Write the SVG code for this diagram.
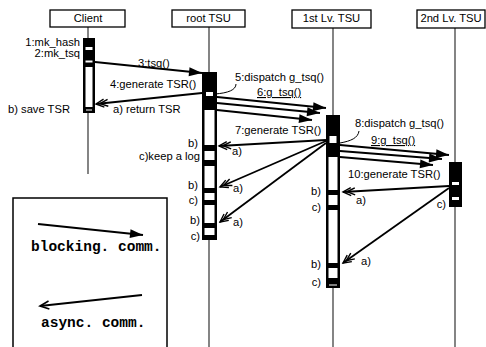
<svg xmlns="http://www.w3.org/2000/svg" width="486" height="347" viewBox="0 0 486 347">
<defs>
<style>
.lbl{font-family:"Liberation Sans",Arial,sans-serif;font-size:11.2px;fill:#000}
.end{text-anchor:end}
.mid{text-anchor:middle}
.box{fill:#fff;stroke:#000;stroke-width:1.3}
.life{stroke:#333;stroke-width:1.2;fill:none}
.msg{stroke:#000;stroke-width:1.8;fill:none}
.blk{marker-end:url(#fill)}
.asy{marker-end:url(#open2)}
.leg{font-family:"Liberation Mono","Courier New",monospace;font-weight:bold;font-size:14.5px;fill:#000}
.w{fill:#fff}
</style>
<marker id="fill" markerUnits="userSpaceOnUse" markerWidth="14" markerHeight="10" refX="13" refY="4.5" orient="auto" overflow="visible">
<path d="M0,0 L13,4.5 L0,9 z" fill="#000"/>
</marker>
<marker id="open2" markerUnits="userSpaceOnUse" markerWidth="14" markerHeight="10" refX="12" refY="4" orient="auto" overflow="visible">
<path d="M4,0 L12,4 L4,8 M0,0.5 L8,4 L0,7.5" fill="none" stroke="#000" stroke-width="1.4"/>
</marker>
<marker id="open1" markerUnits="userSpaceOnUse" markerWidth="12" markerHeight="10" refX="11" refY="4" orient="auto" overflow="visible">
<path d="M2,0 L11,4 L2,8" fill="none" stroke="#000" stroke-width="1.6"/>
</marker>
</defs>
<rect width="486" height="347" fill="#fff"/>

<g id="client">
<line class="life" x1="88" y1="27" x2="88" y2="174"/>
<rect class="box" x="50" y="10" width="75" height="17"/>
<text class="lbl mid" x="88" y="22">Client</text>
<rect x="83" y="38" width="12" height="75" fill="#000"/>
<rect class="w" x="85.5" y="47" width="7" height="3"/>
<rect class="w" x="85.5" y="60.5" width="7" height="2"/>
<rect class="w" x="85.5" y="67" width="7" height="40"/>
<rect class="w" x="86" y="109.5" width="6" height="1"/>
<text class="lbl end" x="80" y="46">1:mk_hash</text>
<text class="lbl end" x="80" y="57">2:mk_tsq</text>
<text class="lbl" x="8" y="113">b) save TSR</text>
</g>

<g id="root">
<line class="life" x1="209" y1="27" x2="209" y2="347"/>
<rect class="box" x="172" y="10" width="73" height="17"/>
<text class="lbl mid" x="208.5" y="22">root TSU</text>
<rect x="202" y="72" width="15" height="168" fill="#000"/>
<rect class="w" x="206" y="92" width="7" height="4"/>
<rect class="w" x="204.5" y="110" width="10" height="35"/>
<rect class="w" x="204.5" y="151" width="10" height="9"/>
<rect class="w" x="204.5" y="166" width="10" height="22"/>
<rect class="w" x="204.5" y="193" width="10" height="7"/>
<rect class="w" x="204.5" y="205" width="10" height="18"/>
<rect class="w" x="204.5" y="228" width="10" height="7"/>
<text class="lbl end" x="198" y="147">b)</text>
<text class="lbl end" x="200" y="160">c)keep a log</text>
<text class="lbl end" x="198" y="189">b)</text>
<text class="lbl end" x="198" y="204">c)</text>
<text class="lbl end" x="200" y="224">b)</text>
<text class="lbl end" x="200" y="240">c)</text>
</g>

<g id="tsu1">
<line class="life" x1="333" y1="28" x2="333" y2="347"/>
<rect class="box" x="292" y="10" width="79" height="18"/>
<text class="lbl mid" x="331.5" y="22">1st Lv. TSU</text>
<rect x="326" y="115" width="14" height="173" fill="#000"/>
<rect class="w" x="329.5" y="136" width="7" height="7"/>
<rect class="w" x="328.5" y="157" width="9" height="33"/>
<rect class="w" x="328.5" y="195" width="9" height="10"/>
<rect class="w" x="328.5" y="210" width="9" height="53"/>
<rect class="w" x="328.5" y="268" width="9" height="10"/>
<rect class="w" x="329" y="284.5" width="8" height="1"/>
<text class="lbl end" x="321" y="195">b)</text>
<text class="lbl end" x="321" y="211">c)</text>
<text class="lbl end" x="321" y="268">b)</text>
<text class="lbl end" x="321" y="286">c)</text>
</g>

<g id="tsu2">
<line class="life" x1="455" y1="28" x2="455" y2="347"/>
<rect class="box" x="417" y="10" width="68" height="18"/>
<text class="lbl mid" x="451" y="22">2nd Lv. TSU</text>
<rect x="449" y="162" width="13" height="45" fill="#000"/>
<rect class="w" x="452" y="182" width="7" height="3"/>
<rect class="w" x="452" y="197" width="7" height="3"/>
<text class="lbl end" x="446" y="208">c)</text>
</g>

<g id="connectors">
<line class="msg blk" x1="95" y1="62" x2="202" y2="73"/>
<line class="msg asy" x1="202" y1="93" x2="96" y2="104"/>
<line class="msg blk" x1="217" y1="97" x2="326" y2="108"/>
<line class="msg blk" x1="217" y1="103" x2="320" y2="113"/>
<line class="msg blk" x1="217" y1="110" x2="312" y2="120"/>
<line class="msg asy" x1="326" y1="140" x2="219" y2="146"/>
<line class="msg asy" x1="326" y1="141" x2="220" y2="187"/>
<line class="msg asy" x1="326" y1="143" x2="220" y2="222"/>
<line class="msg blk" x1="340" y1="145" x2="449" y2="155"/>
<line class="msg blk" x1="340" y1="151" x2="442" y2="159"/>
<line class="msg blk" x1="340" y1="157" x2="433" y2="165"/>
<line class="msg asy" x1="449" y1="186" x2="343" y2="192"/>
<line class="msg asy" x1="449" y1="188" x2="343" y2="263"/>
<path d="M236,84 C236,90 228,93 215,94" fill="none" stroke="#000" stroke-width="1"/>
<path d="M359,131 C358,138 351,141 340,143" fill="none" stroke="#000" stroke-width="1"/>
</g>

<g id="labels">
<text class="lbl" x="138" y="67">3:tsq()</text>
<text class="lbl" x="110" y="88">4:generate TSR()</text>
<text class="lbl" x="113" y="113">a) return TSR</text>
<text class="lbl" x="235" y="81">5:dispatch g_tsq()</text>
<text class="lbl" x="257" y="96" text-decoration="underline">6:g_tsq()</text>
<text class="lbl" x="235" y="134">7:generate TSR()</text>
<text class="lbl" x="232" y="155">a)</text>
<text class="lbl" x="233" y="192">a)</text>
<text class="lbl" x="233" y="226">a)</text>
<text class="lbl" x="355" y="127">8:dispatch g_tsq()</text>
<text class="lbl" x="371" y="144" text-decoration="underline">9:g_tsq()</text>
<text class="lbl" x="348" y="178">10:generate TSR()</text>
<text class="lbl" x="356" y="204">a)</text>
<text class="lbl" x="361" y="265">a)</text>
</g>

<g id="legend">
<rect x="13" y="198" width="154" height="160" fill="none" stroke="#000" stroke-width="1.5"/>
<line class="msg blk" x1="38" y1="224" x2="143" y2="235"/>
<text class="leg" x="31" y="251">blocking. comm.</text>
<line x1="142" y1="295" x2="40" y2="306" stroke="#000" stroke-width="1.8" marker-end="url(#open1)"/>
<text class="leg" x="41" y="327">async. comm.</text>
</g>
</svg>
